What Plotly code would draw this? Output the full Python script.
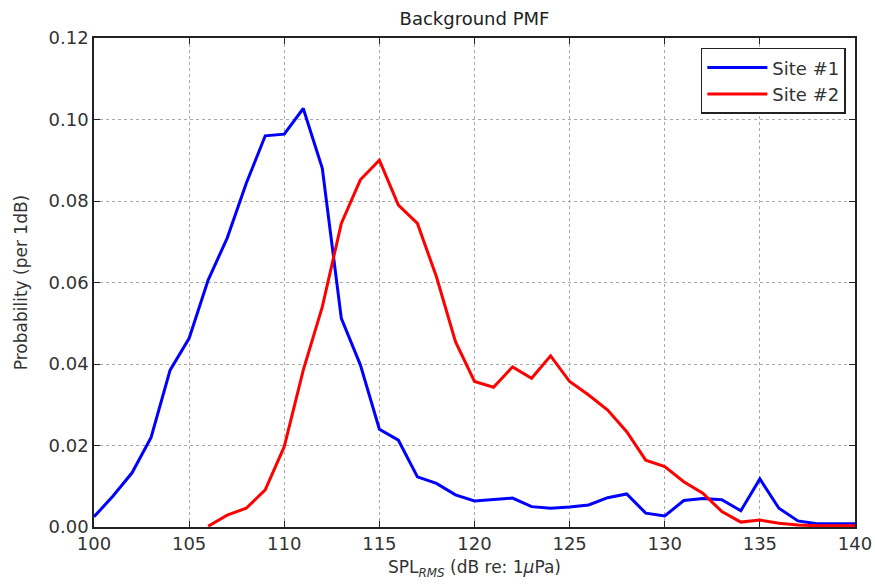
import plotly.graph_objects as go

x_site1 = list(range(100, 141))
site1 = [0.0025, 0.0076, 0.0133, 0.022, 0.0385, 0.0463, 0.0606, 0.0709, 0.0843, 0.0960,
         0.0964, 0.1027, 0.088, 0.0512, 0.0398, 0.0240, 0.0213, 0.0123, 0.0107, 0.0079,
         0.0064, 0.0068, 0.0071, 0.0050, 0.0046, 0.0049, 0.0054, 0.0072, 0.0081, 0.0034,
         0.0027, 0.0065, 0.0070, 0.0067, 0.0040, 0.0118, 0.0046, 0.0015, 0.0008, 0.0008, 0.0008]

x_site2 = list(range(106, 141))
site2 = [0.0002, 0.0029, 0.0046, 0.0091, 0.0197, 0.0385, 0.054, 0.0745, 0.0852, 0.0900,
         0.0790, 0.0745, 0.0614, 0.0455, 0.0357, 0.0343, 0.0393, 0.0365, 0.0420, 0.0357,
         0.0324, 0.0287, 0.0234, 0.0164, 0.0148, 0.0111, 0.0083, 0.0038, 0.0012, 0.0017,
         0.0009, 0.0005, 0.0003, 0.0003, 0.0003]

x_ticks = [100, 105, 110, 115, 120, 125, 130, 135, 140]
y_ticks = [0.00, 0.02, 0.04, 0.06, 0.08, 0.10, 0.12]

fig = go.Figure()
fig.add_trace(go.Scatter(x=x_site1, y=site1, mode="lines", name="Site #1",
                         line=dict(color="#0000ff", width=3)))
fig.add_trace(go.Scatter(x=x_site2, y=site2, mode="lines", name="Site #2",
                         line=dict(color="#ff0000", width=3)))

font_family = "DejaVu Sans, sans-serif"
axis_common = dict(showline=True, linecolor="#222", linewidth=1.5, mirror="ticks",
                   ticks="inside", ticklen=6, tickcolor="#222", automargin=False,
                   showgrid=True, gridcolor="#aaaaaa", griddash="dot", gridwidth=1,
                   zeroline=False, tickfont=dict(family=font_family, size=18, color="#333"))

fig.update_layout(
    width=875, height=587,
    margin=dict(l=94, r=20, t=38, b=60),
    paper_bgcolor="white", plot_bgcolor="white",
    title=dict(text="Background PMF", x=0.5, xref="paper", y=1 - 19 / 587,
               yref="container", yanchor="middle",
               font=dict(family=font_family, size=18, color="#222")),
    xaxis=dict(range=[100, 140], tickvals=x_ticks, ticktext=[str(v) for v in x_ticks],
               title=dict(text="SPL<sub><i>RMS</i></sub> (dB re: 1<i>μ</i>Pa)",
                          font=dict(family=font_family, size=17, color="#333"), standoff=8),
               **axis_common),
    yaxis=dict(range=[0, 0.12], tickvals=y_ticks, ticktext=[f"{v:.2f}" for v in y_ticks],
               title=dict(text="Probability (per 1dB)",
                          font=dict(family=font_family, size=17, color="#333"), standoff=17),
               **axis_common),
    legend=dict(x=0.988, y=0.98, xanchor="right", yanchor="top",
                bgcolor="white", bordercolor="#222", borderwidth=1.5,
                itemwidth=60, tracegroupgap=0,
                font=dict(family=font_family, size=18, color="#333")),
    showlegend=True,
)

fig.write_html("out.html")
